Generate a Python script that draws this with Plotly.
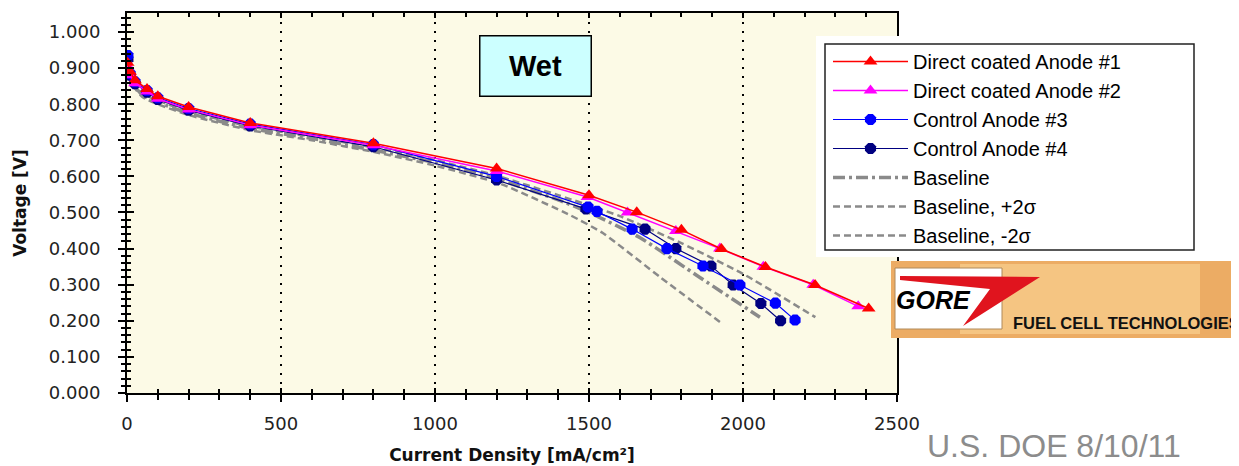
import plotly.graph_objects as go

# ---------------- data ----------------
i_dc1 = [2, 10, 26, 65, 100, 200, 400, 800, 1200, 1500, 1655, 1800, 1930, 2073, 2234, 2408]
v_dc1 = [0.915, 0.89, 0.866, 0.842, 0.822, 0.792, 0.748, 0.692, 0.622, 0.548, 0.501, 0.452, 0.399, 0.349, 0.299, 0.234]

i_dc2 = [2, 10, 26, 65, 100, 200, 400, 800, 1200, 1495, 1625, 1782, 1925, 2066, 2228, 2374]
v_dc2 = [0.905, 0.88, 0.858, 0.835, 0.815, 0.785, 0.742, 0.686, 0.615, 0.543, 0.50, 0.449, 0.40, 0.35, 0.30, 0.24]

i_c3 = [3, 10, 26, 65, 100, 200, 400, 800, 1200, 1497, 1526, 1640, 1753, 1870, 1990, 2105, 2169]
v_c3 = [0.935, 0.885, 0.862, 0.838, 0.818, 0.788, 0.745, 0.688, 0.600, 0.515, 0.503, 0.454, 0.40, 0.352, 0.299, 0.249, 0.202]

i_c4 = [3, 10, 26, 65, 100, 200, 400, 800, 1200, 1490, 1682, 1782, 1896, 1968, 2058, 2122]
v_c4 = [0.925, 0.88, 0.857, 0.833, 0.813, 0.783, 0.740, 0.682, 0.590, 0.510, 0.454, 0.40, 0.352, 0.299, 0.248, 0.200]

i_bp = [0, 10, 25, 50, 100, 200, 400, 600, 800, 1000, 1200, 1400, 1600, 1800, 2000, 2235]
v_bp = [0.92, 0.88, 0.855, 0.83, 0.81, 0.78, 0.738, 0.71, 0.68, 0.645, 0.602, 0.548, 0.49, 0.415, 0.33, 0.21]

i_b = [0, 10, 25, 50, 100, 200, 400, 600, 800, 1000, 1200, 1400, 1500, 1666, 1860, 2055]
v_b = [0.915, 0.875, 0.85, 0.825, 0.805, 0.775, 0.733, 0.705, 0.673, 0.638, 0.593, 0.535, 0.50, 0.43, 0.32, 0.21]

i_bm = [0, 10, 25, 50, 100, 200, 400, 600, 800, 1000, 1211, 1438, 1545, 1731, 1925]
v_bm = [0.91, 0.87, 0.845, 0.82, 0.80, 0.77, 0.728, 0.70, 0.668, 0.63, 0.58, 0.493, 0.443, 0.321, 0.197]

x_ticks = [0, 500, 1000, 1500, 2000, 2500]
y_ticks = [0.0, 0.1, 0.2, 0.3, 0.4, 0.5, 0.6, 0.7, 0.8, 0.9, 1.0]

FONT = "Liberation Sans, Arial, sans-serif"
TICKFONT = "DejaVu Sans, Verdana, sans-serif"
GRAY = "#8a8a8a"

fig = go.Figure()

# baselines (drawn first, underneath)
fig.add_trace(go.Scatter(x=i_bp, y=v_bp, mode="lines", name="Baseline, +2σ", legendrank=6,
                         line=dict(color=GRAY, width=2.5, dash="7px,4px", shape="spline", smoothing=0.5)))
fig.add_trace(go.Scatter(x=i_bm, y=v_bm, mode="lines", name="Baseline, -2σ", legendrank=7,
                         line=dict(color=GRAY, width=2.5, dash="7px,4px", shape="spline", smoothing=0.5)))
fig.add_trace(go.Scatter(x=i_b, y=v_b, mode="lines", name="Baseline", legendrank=5,
                         line=dict(color=GRAY, width=3.5, dash="12px,4px,3px,4px", shape="spline", smoothing=0.5)))

fig.add_trace(go.Scatter(x=i_c4, y=v_c4, mode="lines+markers", name="Control Anode #4", legendrank=4,
                         line=dict(color="#000080", width=1.2),
                         marker=dict(symbol="octagon", size=12, color="#000080")))
fig.add_trace(go.Scatter(x=i_c3, y=v_c3, mode="lines+markers", name="Control Anode #3", legendrank=3,
                         line=dict(color="#0000ff", width=1.2),
                         marker=dict(symbol="octagon", size=12, color="#0000ff")))
fig.add_trace(go.Scatter(x=i_dc2, y=v_dc2, mode="lines+markers", name="Direct coated Anode #2", legendrank=2,
                         line=dict(color="#ff00ff", width=1.5),
                         marker=dict(symbol="triangle-up", size=12, color="#ff00ff")))
fig.add_trace(go.Scatter(x=i_dc1, y=v_dc1, mode="lines+markers", name="Direct coated Anode #1", legendrank=1,
                         line=dict(color="#ff0000", width=1.5),
                         marker=dict(symbol="triangle-up", size=12, color="#ff0000")))

# geometry: page has an 8px body margin, figure drawn at (8, 8)
OFF = 8
W, H = 1239 - OFF, 466 - OFF
L, R, T, B = 127, 897, 13, 393          # plot area in screen pixels
def px(x):
    return (x - L) / (R - L)
def py(y):
    return (B - y) / (B - T)

shapes = []
# legend backing + frame
shapes.append(dict(type="rect", xref="paper", yref="paper", x0=px(816), x1=px(1239), y0=py(257), y1=py(36),
                   fillcolor="white", line=dict(width=0), layer="above"))
shapes.append(dict(type="rect", xref="paper", yref="paper", x0=px(825), x1=px(1194), y0=py(250), y1=py(44),
                   fillcolor="rgba(0,0,0,0)", line=dict(color="#222", width=1.5), layer="above"))
# logo banner
shapes.append(dict(type="rect", xref="paper", yref="paper", x0=px(891), x1=px(1239), y0=py(338), y1=py(261),
                   fillcolor="rgb(236,172,100)", line=dict(width=0), layer="above"))
shapes.append(dict(type="rect", xref="paper", yref="paper", x0=px(960), x1=px(1200), y0=py(334), y1=py(264),
                   fillcolor="rgba(248,206,140,0.75)", line=dict(width=0), layer="above"))
shapes.append(dict(type="rect", xref="paper", yref="paper", x0=px(895), x1=px(1002), y0=py(329), y1=py(268),
                   fillcolor="white", line=dict(color="#b08a5a", width=1), layer="above"))
# red logo wedge
pts = [(900, 276), (1040, 277), (963, 326), (990, 289), (900, 280)]
path = "M " + " L ".join(f"{px(a)},{py(b)}" for a, b in pts) + " Z"
shapes.append(dict(type="path", xref="paper", yref="paper", path=path,
                   fillcolor="#e0141e", line=dict(width=0), layer="above"))

annotations = [
    dict(text="<b>Wet</b>", xref="paper", yref="paper", x=px(535.5), y=py(66), showarrow=False,
         font=dict(family=FONT, size=29, color="black"), bgcolor="#ccffff",
         bordercolor="black", borderwidth=1.5, width=108, height=57, xanchor="center", yanchor="middle"),
    dict(text="<b><i>GORE</i></b>", xref="paper", yref="paper", x=px(933), y=py(300), showarrow=False,
         font=dict(family="Liberation Sans Narrow, Liberation Sans, sans-serif", size=25, color="black"),
         xanchor="center", yanchor="middle"),
    dict(text="<b>FUEL CELL TECHNOLOGIES</b>", xref="paper", yref="paper", x=px(1011), y=py(323),
         showarrow=False, font=dict(family=FONT, size=16.5, color="#111"), xanchor="left", yanchor="middle"),
    dict(text="U.S. DOE 8/10/11", xref="paper", yref="paper", x=px(1054), y=py(446), showarrow=False,
         font=dict(family=FONT, size=32, color="#8c8c8c"), xanchor="center", yanchor="middle"),
]

fig.update_layout(
    width=W, height=H,
    margin=dict(l=L - OFF, r=W - (R - OFF), t=T - OFF, b=H - (B - OFF), autoexpand=False),
    paper_bgcolor="white",
    plot_bgcolor="#fcfae6",
    font=dict(family=TICKFONT, size=18, color="#222"),
    shapes=shapes,
    annotations=annotations,
    legend=dict(x=px(828), y=py(42), xanchor="left", yanchor="top",
                bgcolor="rgba(0,0,0,0)", borderwidth=0,
                font=dict(family=FONT, size=20, color="black"), itemwidth=75),
    xaxis=dict(range=[0, 2500], tickvals=x_ticks, ticktext=[str(v) for v in x_ticks],
               showline=True, linecolor="black", linewidth=2, mirror=True,
               ticks="outside", ticklen=7, tickwidth=2, tickcolor="black",
               minor=dict(dtick=100, ticks="outside", ticklen=5, tickwidth=1.5, tickcolor="black", showgrid=False),
               showgrid=True, gridcolor="black", griddash="2px,7px", gridwidth=1.5,
               zeroline=False, ticklabelstandoff=6,
               tickfont=dict(family=TICKFONT, size=18, color="#222"),
               title=dict(text="<b>Current Density [mA/cm²]</b>",
                          font=dict(family=TICKFONT, size=17, color="#111"), standoff=17)),
    yaxis=dict(range=[0, 1.0526], tickvals=y_ticks, tickformat=".3f",
               showline=True, linecolor="black", linewidth=2, mirror=True,
               ticks="outside", ticklen=7, tickwidth=2, tickcolor="black",
               minor=dict(dtick=0.02, ticks="outside", ticklen=4, tickwidth=1.5, tickcolor="black", showgrid=False),
               showgrid=False, zeroline=False, ticklabelstandoff=14,
               tickfont=dict(family=TICKFONT, size=18, color="#222"),
               title=dict(text="<b>Voltage [V]</b>", font=dict(family=TICKFONT, size=17, color="#111"),
                          standoff=18)),
    xaxis2=dict(overlaying="x", matches="x", side="bottom", showticklabels=False, showgrid=False,
                ticks="inside", ticklen=5, tickwidth=1.5, tickcolor="black", tickvals=x_ticks,
                minor=dict(dtick=100, ticks="inside", ticklen=4, tickwidth=1.5, tickcolor="black"),
                mirror="ticks", zeroline=False, showline=False),
    yaxis2=dict(overlaying="y", matches="y", side="left", showticklabels=False, showgrid=False,
                ticks="inside", ticklen=7, tickwidth=2, tickcolor="black", tickvals=y_ticks,
                minor=dict(dtick=0.02, ticks="inside", ticklen=4, tickwidth=1.5, tickcolor="black"),
                zeroline=False, showline=False),
)

# invisible trace to activate the inside-tick overlay axes
fig.add_trace(go.Scatter(x=[0], y=[0], xaxis="x2", yaxis="y2", mode="markers",
                         marker=dict(opacity=0), showlegend=False, hoverinfo="skip"))

fig.write_html("out.html")
